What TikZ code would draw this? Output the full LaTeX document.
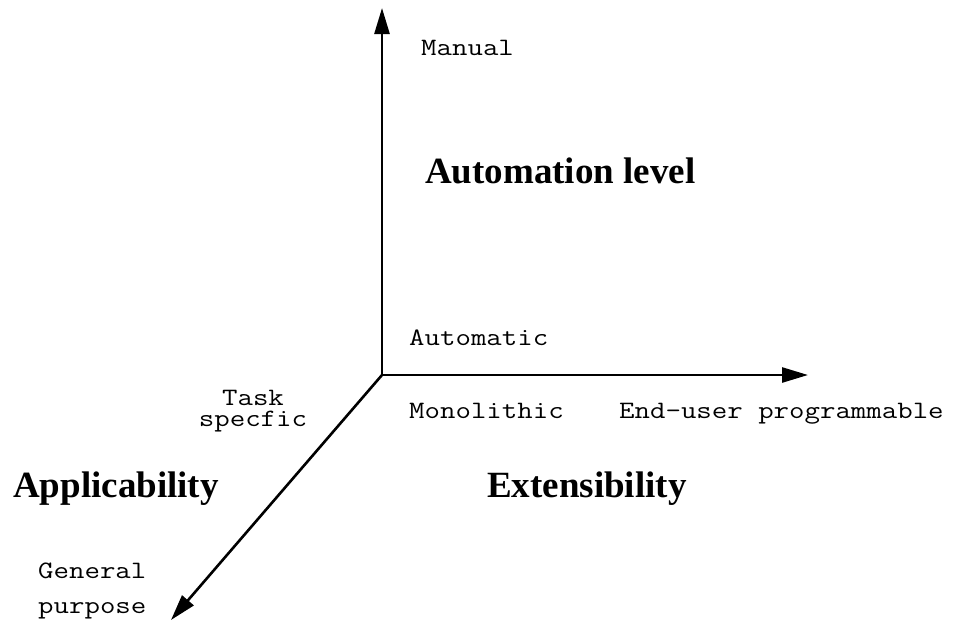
\documentclass[tikz,border=0pt]{standalone}
\usepackage{fontspec}
\setmainfont{Liberation Serif}
\usetikzlibrary{arrows.meta}
\newcommand\monotext[2][20]{\scalebox{1.2}[1]{\fontsize{25}{#1}\selectfont\ttfamily\begin{tabular}[t]{@{}c@{}}#2\end{tabular}}}
\tikzset{
  axis/.style={line width=2.6pt, -{Triangle[length=26pt,width=15pt]}},
  lbl/.style={inner sep=0pt, anchor=base west},
  title/.style={inner sep=0pt, anchor=base west, font=\bfseries\fontsize{37}{40}\selectfont},
}
\begin{document}
\begin{tikzpicture}[x=1pt,y=-1pt]
\useasboundingbox (0,0) rectangle (958,627);
\coordinate (O) at (382,375);
\coordinate (up) at (382,8);
\coordinate (right) at (808,375);
\coordinate (diag) at (171,620);
\draw[axis] (O) -- (up);
\draw[axis] (O) -- (right);
\draw[axis] (O) -- (diag);
\node[lbl] (manual) at (421,55) {\monotext{Manual}};
\node[title] (autolevel) at (425,183) {Automation level};
\node[lbl] (automatic) at (409,345) {\monotext{Automatic}};
\node[lbl] (mono) at (409,418) {\monotext{Monolithic}};
\node[lbl] (enduser) at (619,418) {\monotext{End-user programmable}};
\node[lbl, anchor=base] (task) at (253,405) {\monotext{Task\\specfic}};
\node[title] (applic) at (13,497) {Applicability};
\node[title] (extens) at (487,497) {Extensibility};
\node[lbl] (general) at (38,578) {\monotext[35]{General\\purpose}};
\end{tikzpicture}
\end{document}
